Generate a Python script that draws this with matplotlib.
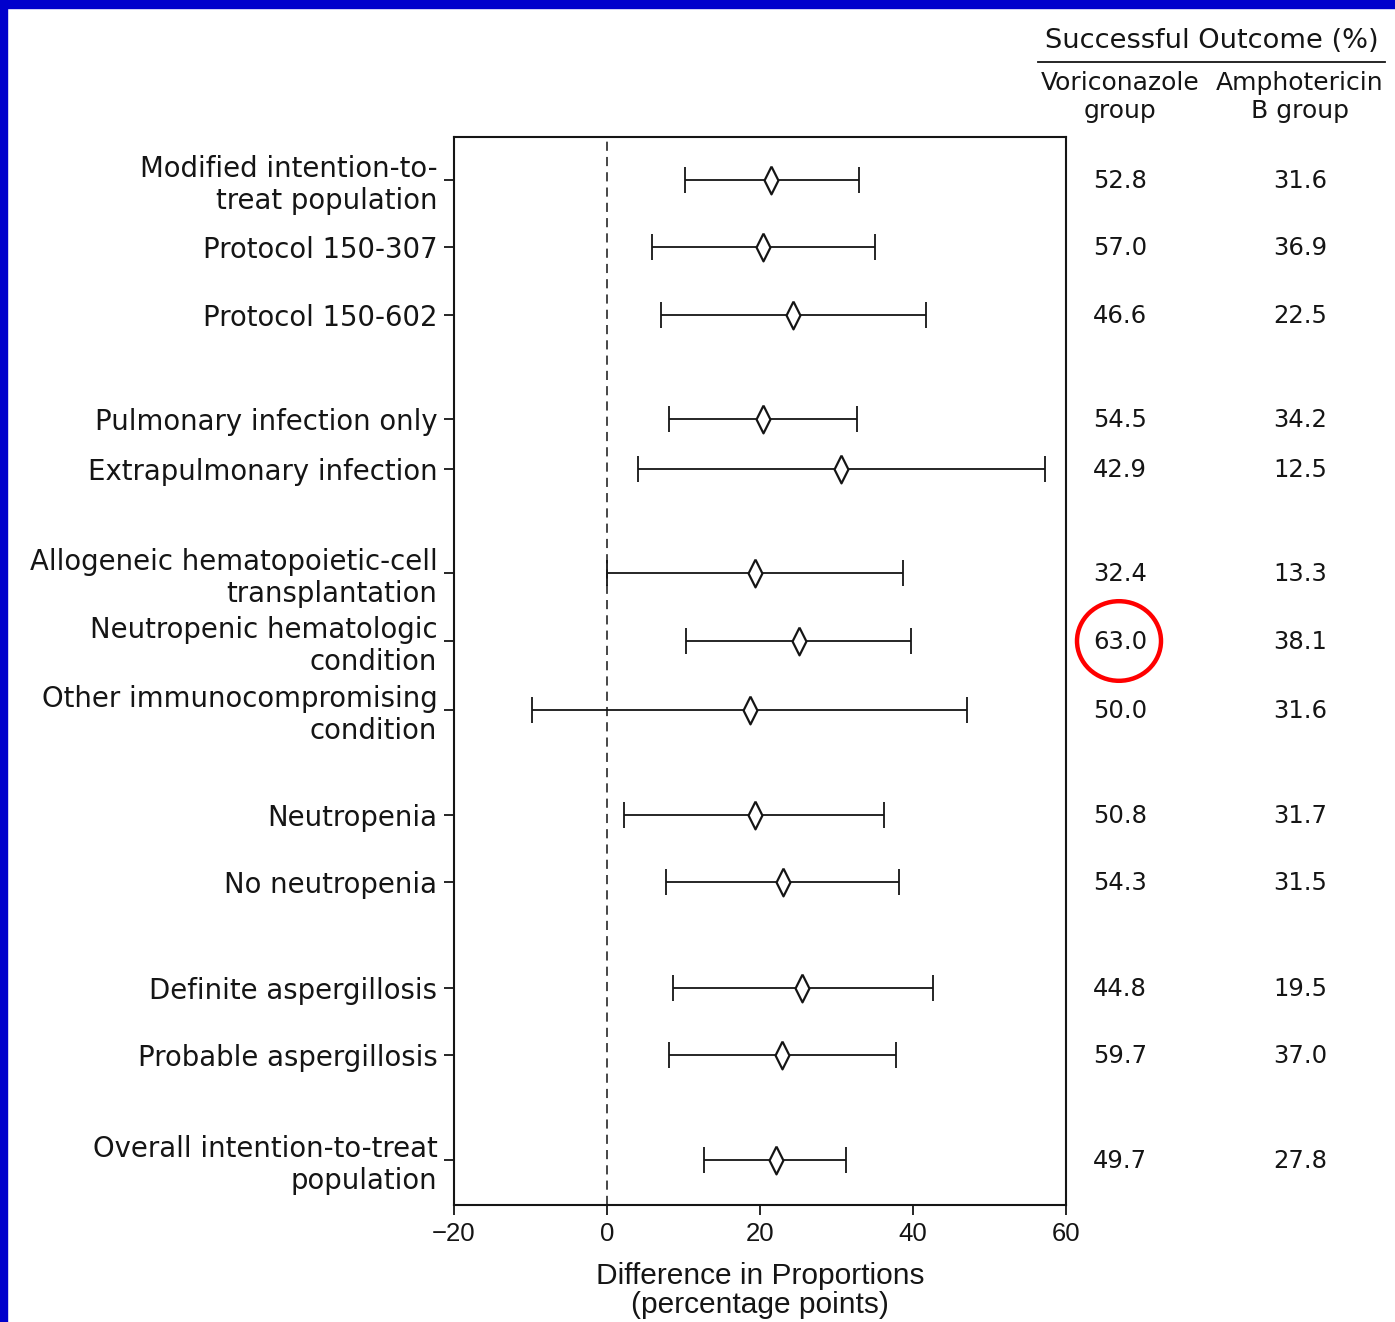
import matplotlib.pyplot as plt
from matplotlib.patches import Circle, Rectangle
from matplotlib.lines import Line2D
from matplotlib.transforms import blended_transform_factory

# Subgroups and estimates (difference in proportions, percentage points)
labels = [
    "Modified intention-to-\ntreat population",
    "Protocol 150-307",
    "Protocol 150-602",
    "Pulmonary infection only",
    "Extrapulmonary infection",
    "Allogeneic hematopoietic-cell\ntransplantation",
    "Neutropenic hematologic\ncondition",
    "Other immunocompromising\ncondition",
    "Neutropenia",
    "No neutropenia",
    "Definite aspergillosis",
    "Probable aspergillosis",
    "Overall intention-to-treat\npopulation",
]
diff = [21.4, 20.4, 24.3, 20.4, 30.6, 19.3, 25.1, 18.7, 19.3, 23.0, 25.5, 22.9, 22.1]
ci_low = [10.2, 5.9, 7.1, 8.1, 4.1, 0.0, 10.3, -9.8, 2.2, 7.7, 8.6, 8.1, 12.7]
ci_high = [32.9, 35.0, 41.7, 32.7, 57.3, 38.7, 39.7, 47.1, 36.2, 38.2, 42.6, 37.8, 31.2]
vori = ["52.8", "57.0", "46.6", "54.5", "42.9", "32.4", "63.0", "50.0", "50.8", "54.3", "44.8", "59.7", "49.7"]
ampho = ["31.6", "36.9", "22.5", "34.2", "12.5", "13.3", "38.1", "31.6", "31.7", "31.5", "19.5", "37.0", "27.8"]

# row positions (groups separated by gaps)
rows = [180, 247, 315, 419, 469, 573, 641, 710, 815, 882, 988, 1055, 1160]

plt.rcParams['font.family'] = ['DejaVu Sans']
W, H = 1395, 1322
ink = '#151515'
fig = plt.figure(figsize=(W / 100, H / 100), dpi=100)


def fx(px):
    return px / W


def fy(py):
    return 1 - py / H


# blue frame on top and left edges
fig.patches.append(Rectangle((0, 1 - 8 / H), 1, 8 / H, transform=fig.transFigure,
                             color='#0000CC', zorder=0))
fig.patches.append(Rectangle((0, 0), 7 / W, 1, transform=fig.transFigure,
                             color='#0000CC', zorder=0))

ax = fig.add_axes([454 / W, 1 - 1205 / H, (1066 - 454) / W, (1205 - 137) / H])

lo_err = [d - l for d, l in zip(diff, ci_low)]
hi_err = [h - d for d, h in zip(diff, ci_high)]
ax.errorbar(diff, rows, xerr=[lo_err, hi_err], fmt='none', ecolor=ink,
            elinewidth=1.3, capsize=9.5, capthick=1.3, zorder=2)
diamond = [(0, 1), (0.5, 0), (0, -1), (-0.5, 0), (0, 1)]
ax.plot(diff, rows, linestyle='none', marker=diamond, markersize=20,
        markerfacecolor='white', markeredgecolor=ink, markeredgewidth=1.6, zorder=3)

ax.axvline(0, color=ink, linewidth=1.1, linestyle=(0, (6, 4)), zorder=1)

ax.set_xlim(-20, 60)
ax.set_ylim(1205, 137)
ax.set_yticks(rows)
ax.set_yticklabels(labels, fontsize=19.8, color=ink, linespacing=1.17)
narrow = ['Liberation Sans', 'DejaVu Sans']
ax.set_xticks([-20, 0, 20, 40, 60])
ax.set_xticklabels(['\u221220', '0', '20', '40', '60'], fontsize=18.5, family=narrow, color=ink)
ax.tick_params(axis='y', length=7, width=1.3, pad=5, color=ink)
ax.tick_params(axis='x', length=7, width=1.3, pad=5, color=ink)
for s in ax.spines.values():
    s.set_linewidth(1.5)
    s.set_color(ink)

ax.set_xlabel('Difference in Proportions\n(percentage points)', fontsize=21.5,
              family=narrow, linespacing=1.03, labelpad=12, color=ink)

# right-hand table
fig.text(fx(1212), fy(41), 'Successful Outcome (%)', fontsize=19.6, ha='center', va='center',
         color=ink)
fig.add_artist(Line2D([fx(1038), fx(1385)], [fy(62), fy(62)], color=ink, linewidth=1.3))
fig.text(fx(1120), fy(97), 'Voriconazole\ngroup', fontsize=18, ha='center', va='center',
         linespacing=1.2, color=ink)
fig.text(fx(1300), fy(97), 'Amphotericin\nB group', fontsize=18, ha='center', va='center',
         linespacing=1.2, color=ink)

tr = blended_transform_factory(fig.transFigure, ax.transData)
for y, v, a in zip(rows, vori, ampho):
    ax.text(fx(1120), y + 1, v, transform=tr, fontsize=17.5, ha='center', va='center',
            color=ink, clip_on=False)
    ax.text(fx(1300), y + 1, a, transform=tr, fontsize=17.5, ha='center', va='center',
            color=ink, clip_on=False)

# red highlight circle around 63.0
fig.patches.append(Circle((fx(1119), fy(641)), 42 / W, transform=fig.transFigure,
                          fill=False, edgecolor='#FF0000', linewidth=3.2, zorder=5))

fig.savefig('out.png', dpi=100, facecolor='white')
